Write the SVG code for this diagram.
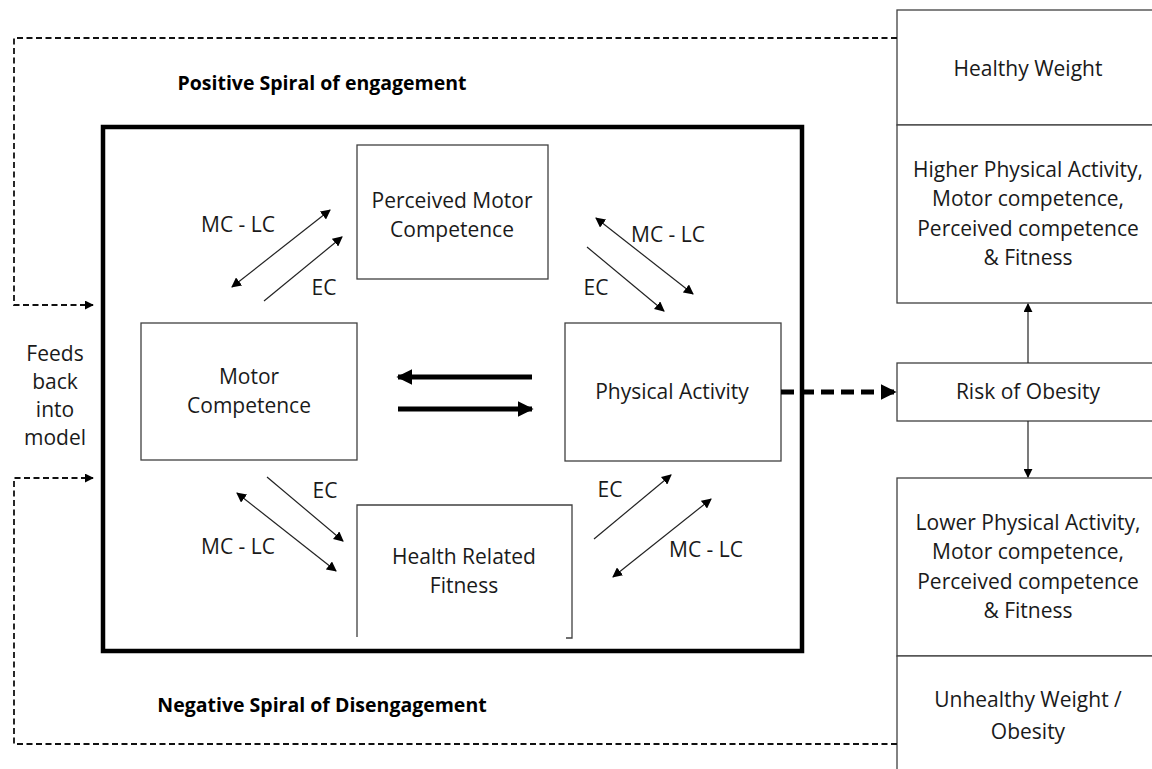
<svg xmlns="http://www.w3.org/2000/svg" width="1152" height="769" viewBox="0 0 1152 769">
<style>
  text { font-family: "Open Sans", "Liberation Sans", sans-serif; font-size: 21px; fill: #1a1a1a; text-anchor: middle; }
  .bold { font-weight: bold; fill: #000; font-size: 19.5px; }
  .box { fill: #fff; stroke: #404040; stroke-width: 1.3; }
  .thin { stroke: #222; stroke-width: 1.2; fill: none; }
  .dash { stroke: #111; stroke-width: 1.8; fill: none; stroke-dasharray: 6 3.5; }
  .thick { stroke: #000; stroke-width: 5; fill: none; }
</style>
<defs>
  <marker id="ah" viewBox="0 0 10 10" refX="9" refY="5" markerWidth="10" markerHeight="10" markerUnits="userSpaceOnUse" orient="auto-start-reverse">
    <path d="M0,0 L10,5 L0,10 Z" fill="#000"/>
  </marker>
  <marker id="ahd" viewBox="0 0 10 10" refX="9" refY="5" markerWidth="9" markerHeight="9" markerUnits="userSpaceOnUse" orient="auto">
    <path d="M0,0 L10,5 L0,10 Z" fill="#000"/>
  </marker>
  <marker id="ahb" viewBox="0 0 10 10" refX="9" refY="5" markerWidth="16" markerHeight="16" markerUnits="userSpaceOnUse" orient="auto">
    <path d="M0,0 L10,5 L0,10 Z" fill="#000"/>
  </marker>
</defs>
<rect width="1152" height="769" fill="#fff"/>

<g id="main-frame">
  <rect x="103" y="127" width="699" height="524" fill="none" stroke="#000" stroke-width="4.5"/>
</g>

<g id="node-perceived">
  <rect class="box" x="357" y="145" width="191" height="134"/>
  <text x="452" y="208">Perceived Motor</text>
  <text x="452" y="237">Competence</text>
</g>
<g id="node-motor">
  <rect class="box" x="141" y="323" width="216" height="137"/>
  <text x="249" y="384">Motor</text>
  <text x="249" y="413">Competence</text>
</g>
<g id="node-pa">
  <rect class="box" x="565" y="323" width="216" height="138"/>
  <text x="672" y="399">Physical Activity</text>
</g>
<g id="node-hrf">
  <path class="box" d="M357,637 L357,505 L572,505 L572,638 L566,638" fill="none"/>
  <text x="464" y="564">Health Related</text>
  <text x="464" y="593">Fitness</text>
</g>

<g id="node-healthy">
  <rect class="box" x="897" y="10" width="270" height="115"/>
  <text x="1028" y="76">Healthy Weight</text>
</g>
<g id="node-higher">
  <rect class="box" x="897" y="125" width="270" height="178"/>
  <text x="1028" y="177">Higher Physical Activity,</text>
  <text x="1028" y="206">Motor competence,</text>
  <text x="1028" y="236">Perceived competence</text>
  <text x="1028" y="265">&amp; Fitness</text>
</g>
<g id="node-risk">
  <rect class="box" x="897" y="363" width="270" height="58"/>
  <text x="1028" y="399">Risk of Obesity</text>
</g>
<g id="node-lower">
  <rect class="box" x="897" y="478" width="270" height="178"/>
  <text x="1028" y="530">Lower Physical Activity,</text>
  <text x="1028" y="559">Motor competence,</text>
  <text x="1028" y="589">Perceived competence</text>
  <text x="1028" y="618">&amp; Fitness</text>
</g>
<g id="node-unhealthy">
  <rect class="box" x="897" y="656" width="270" height="130"/>
  <text x="1028" y="707">Unhealthy Weight /</text>
  <text x="1028" y="739">Obesity</text>
</g>

<g id="labels">
  <text class="bold" x="322" y="90">Positive Spiral of engagement</text>
  <text class="bold" x="322" y="712">Negative Spiral of Disengagement</text>
  <text x="55" y="361">Feeds</text>
  <text x="55" y="389">back</text>
  <text x="55" y="417">into</text>
  <text x="55" y="445">model</text>
</g>

<g id="connectors">
  <path class="dash" d="M897,38 L14,38 L14,305 L93,305" marker-end="url(#ahd)"/>
  <path class="dash" d="M897,744 L14,744 L14,478 L93,478" marker-end="url(#ahd)"/>
  <line class="thick" x1="532" y1="377" x2="398" y2="377" marker-end="url(#ahb)"/>
  <line class="thick" x1="398" y1="409" x2="532" y2="409" marker-end="url(#ahb)"/>
  <line x1="781" y1="392" x2="895" y2="392" stroke="#000" stroke-width="5" stroke-dasharray="13 7" marker-end="url(#ahb)"/>
  <line class="thin" x1="1028" y1="363" x2="1028" y2="304" marker-end="url(#ahd)"/>
  <line class="thin" x1="1028" y1="421" x2="1028" y2="477" marker-end="url(#ahd)"/>
  <line class="thin" x1="232" y1="287" x2="330" y2="210" marker-start="url(#ah)" marker-end="url(#ah)"/>
  <line class="thin" x1="264" y1="301" x2="342" y2="237" marker-end="url(#ah)"/>
  <line class="thin" x1="596" y1="218" x2="693" y2="294" marker-start="url(#ah)" marker-end="url(#ah)"/>
  <line class="thin" x1="587" y1="247" x2="664" y2="311" marker-end="url(#ah)"/>
  <line class="thin" x1="267" y1="477" x2="343" y2="541" marker-end="url(#ah)"/>
  <line class="thin" x1="237" y1="493" x2="336" y2="571" marker-start="url(#ah)" marker-end="url(#ah)"/>
  <line class="thin" x1="594" y1="539" x2="671" y2="475" marker-end="url(#ah)"/>
  <line class="thin" x1="613" y1="577" x2="711" y2="499" marker-start="url(#ah)" marker-end="url(#ah)"/>
  <text x="238" y="232">MC - LC</text>
  <text x="324" y="295">EC</text>
  <text x="668" y="242">MC - LC</text>
  <text x="596" y="295">EC</text>
  <text x="325" y="498">EC</text>
  <text x="238" y="554">MC - LC</text>
  <text x="610" y="497">EC</text>
  <text x="706" y="557">MC - LC</text>
</g>
</svg>
